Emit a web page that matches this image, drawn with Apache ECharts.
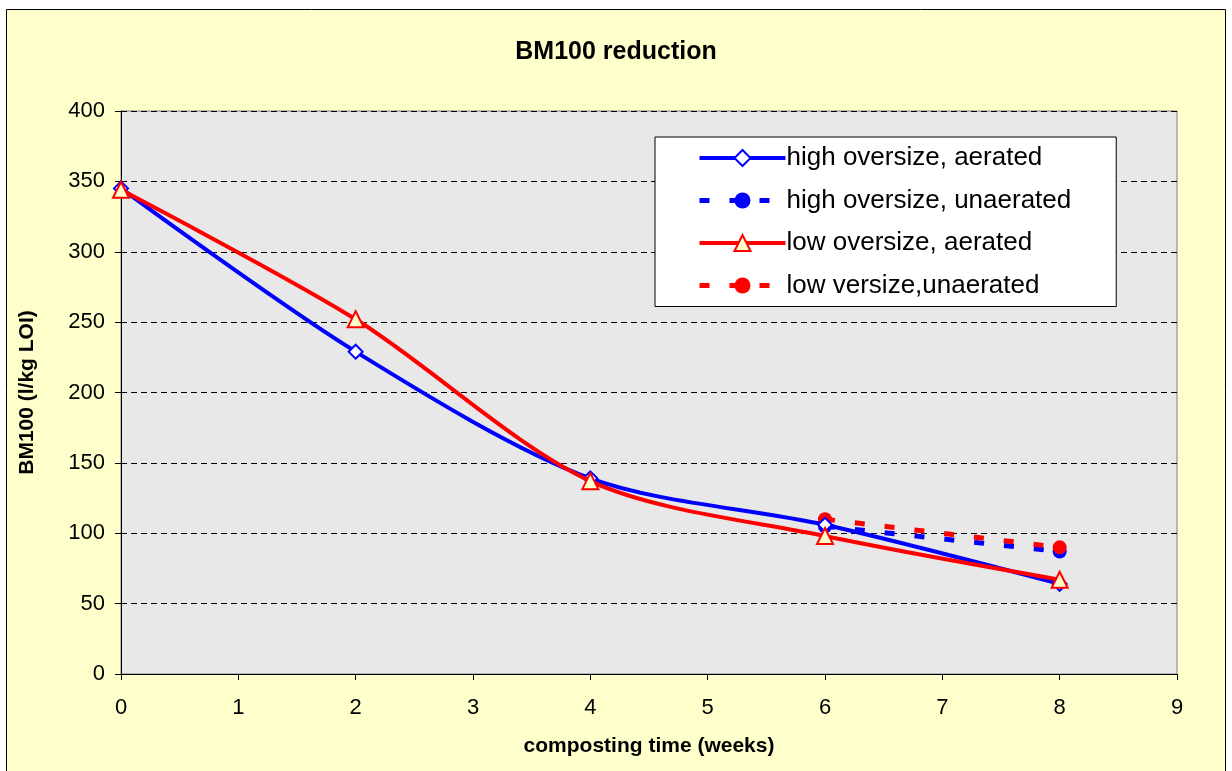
<!DOCTYPE html>
<html>
<head>
<meta charset="utf-8">
<script src="https://cdn.jsdelivr.net/npm/echarts@6/dist/echarts.min.js"></script>
<style>
  html, body { margin: 0; padding: 0; background: #fff; }
  #main { width: 1232px; height: 771px; }
</style>
</head>
<body>
<div id="main"></div>
<script>
const weeks = [0, 2, 4, 6, 8]
const highAerated = [345, 229, 139, 106, 64]
const lowAerated = [344, 252, 137, 98, 67]
const unaeratedWeeks = [6, 8]
const highUnaerated = [105, 87]
const lowUnaerated = [110, 90]

const pairs = (xs, ys) => xs.map((x, i) => [x, ys[i]])
const font = 'Liberation Sans, Arial, sans-serif'

const chart = echarts.init(document.getElementById('main'))
chart.setOption({
  backgroundColor: '#ffffff',
  animation: false,
  textStyle: { fontFamily: font },
  graphic: [{
    type: 'rect',
    z: -10,
    shape: { x: 6.5, y: 9.5, width: 1219, height: 770 },
    style: { fill: '#FFFFCC', stroke: '#000', lineWidth: 1 }
  }],
  title: {
    text: 'BM100 reduction',
    left: 'center',
    top: 35,
    textStyle: { fontSize: 25, fontWeight: 'bold', color: '#000', fontFamily: font }
  },
  legend: {
    orient: 'vertical',
    left: 655,
    top: 137,
    padding: [8, 45, 8, 42],
    itemWidth: 86,
    itemHeight: 20,
    itemGap: 16.5,
    backgroundColor: '#fff',
    borderColor: '#000',
    borderWidth: 1,
    borderRadius: 0,
    lineStyle: { width: 'inherit' },
    textStyle: { fontSize: 26, lineHeight: 26, color: '#000', fontFamily: font, padding: [0, 0, 0, -4] }
  },
  grid: {
    left: 121, right: 55, top: 111, bottom: 97,
    show: true,
    backgroundColor: '#E8E8E8',
    borderColor: '#808080',
    borderWidth: 1
  },
  xAxis: {
    type: 'value',
    min: 0, max: 9, interval: 1,
    name: 'composting time (weeks)',
    nameLocation: 'middle',
    nameGap: 62,
    nameTextStyle: { fontSize: 21, fontWeight: 'bold', color: '#000' },
    axisLine: { lineStyle: { color: '#000', width: 1 } },
    axisTick: { length: 6, lineStyle: { color: '#000' } },
    axisLabel: { fontSize: 22, color: '#000', margin: 23 },
    splitLine: { show: false }
  },
  yAxis: {
    type: 'value',
    min: 0, max: 400, interval: 50,
    name: 'BM100 (l/kg LOI)',
    nameLocation: 'middle',
    nameGap: 83,
    nameTextStyle: { fontSize: 21, fontWeight: 'bold', color: '#000' },
    axisLine: { show: true, lineStyle: { color: '#000', width: 1 } },
    axisTick: { show: true, length: 6, lineStyle: { color: '#000' } },
    axisLabel: { fontSize: 22, color: '#000', margin: 16 },
    splitLine: { lineStyle: { color: '#000', type: [6, 4], width: 1 } }
  },
  series: [
    {
      name: 'high oversize, aerated',
      type: 'line',
      smooth: 0.3,
      data: pairs(weeks, highAerated),
      symbol: 'diamond',
      symbolSize: 14,
      lineStyle: { color: '#0000FF', width: 4 },
      itemStyle: { color: '#ffffff', borderColor: '#0000FF', borderWidth: 2 },
      z: 3
    },
    {
      name: 'high oversize, unaerated',
      type: 'line',
      data: pairs(unaeratedWeeks, highUnaerated),
      symbol: 'circle',
      symbolSize: 14,
      lineStyle: { color: '#0000FF', width: 5, type: [10, 20] },
      itemStyle: { color: '#0000FF', borderWidth: 0 },
      z: 2
    },
    {
      name: 'low oversize, aerated',
      type: 'line',
      smooth: 0.3,
      data: pairs(weeks, lowAerated),
      symbol: 'triangle',
      symbolSize: 16,
      lineStyle: { color: '#FF0000', width: 4 },
      itemStyle: { color: '#FFFFCC', borderColor: '#FF0000', borderWidth: 2 },
      z: 4
    },
    {
      name: 'low versize,unaerated',
      type: 'line',
      data: pairs(unaeratedWeeks, lowUnaerated),
      symbol: 'circle',
      symbolSize: 14,
      lineStyle: { color: '#FF0000', width: 5, type: [10, 20] },
      itemStyle: { color: '#FF0000', borderWidth: 0 },
      z: 2
    }
  ]
})
</script>
</body>
</html>
